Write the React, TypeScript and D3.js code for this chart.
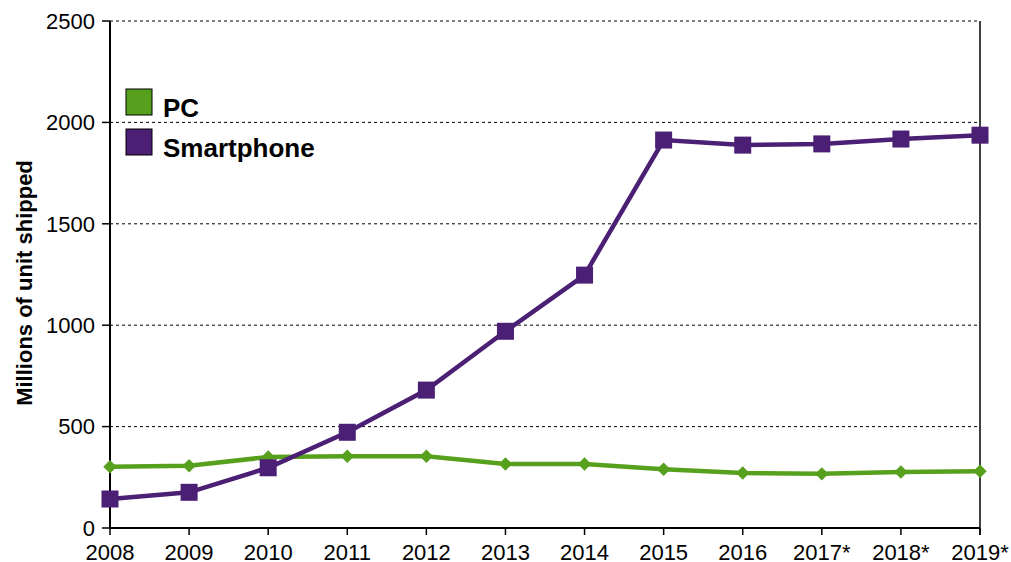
import React from "react";
import * as d3 from "d3";

const years = ["2008", "2009", "2010", "2011", "2012", "2013", "2014", "2015", "2016", "2017*", "2018*", "2019*"];
const pcValues = [302, 307, 350, 354, 354, 316, 316, 290, 271, 267, 276, 280];
const smartphoneValues = [143, 176, 297, 472, 680, 970, 1247, 1913, 1888, 1894, 1918, 1937];
const yTicks = [0, 500, 1000, 1500, 2000, 2500];
const legendItems = ["PC", "Smartphone"];

const GREEN = "#57a01d";
const PURPLE = "#4b1f74";
const FONT = "'Liberation Sans', Arial, sans-serif";

export default function App() {
  const W = 1011, H = 562;
  const left = 110, right = 980, top = 21, bottom = 528;
  const x = d3.scalePoint<string>().domain(years).range([left, right]);
  const y = d3.scaleLinear().domain([0, 2500]).range([bottom, top]);
  const line = d3.line<number>().x((_, i) => x(years[i])!).y((d) => y(d));
  const diamond = d3.symbol().type(d3.symbolDiamond2).size(115)();

  return (
    <svg width={W} height={H} style={{ position: "absolute", left: 0, top: 0, background: "#fff" }} fontFamily={FONT}>
      {yTicks.filter((t) => t > 0).map((t) => (
        <line key={t} x1={left} x2={right} y1={y(t)} y2={y(t)} stroke="#000" strokeWidth={1} strokeDasharray="3,3" />
      ))}
      <line x1={right} x2={right} y1={top} y2={bottom + 7} stroke="#000" strokeWidth={1.5} />
      <line x1={left} x2={left} y1={top} y2={bottom} stroke="#000" strokeWidth={2} />
      <line x1={left} x2={right} y1={bottom} y2={bottom} stroke="#000" strokeWidth={2} />
      {yTicks.map((t) => (
        <g key={t}>
          <line x1={left - 8} x2={left} y1={y(t)} y2={y(t)} stroke="#000" strokeWidth={1.5} />
          <text x={left - 15} y={y(t)} dy="0.35em" textAnchor="end" fontSize={22}>{t}</text>
        </g>
      ))}
      {years.map((yr) => (
        <g key={yr}>
          <line x1={x(yr)} x2={x(yr)} y1={bottom} y2={bottom + 7} stroke="#000" strokeWidth={1.5} />
          <text x={x(yr)} y={bottom + 32} textAnchor="middle" fontSize={22}>{yr}</text>
        </g>
      ))}
      <text transform={`translate(32,283) rotate(-90)`} textAnchor="middle" fontSize={22} fontWeight="bold">Millions of unit shipped</text>

      <path d={line(pcValues)!} fill="none" stroke={GREEN} strokeWidth={4.5} />
      {pcValues.map((v, i) => (
        <path key={i} d={diamond!} transform={`translate(${x(years[i])},${y(v)})`} fill={GREEN} />
      ))}
      <path d={line(smartphoneValues)!} fill="none" stroke={PURPLE} strokeWidth={4.5} />
      {smartphoneValues.map((v, i) => (
        <rect key={i} x={x(years[i])! - 8.5} y={y(v) - 8.5} width={17} height={17} fill={PURPLE} />
      ))}

      {legendItems.map((name, i) => (
        <g key={name} transform={`translate(126,${89 + i * 40})`}>
          <rect x={0} y={0} width={26} height={26} fill={i === 0 ? GREEN : PURPLE} stroke="#000" strokeWidth={1} />
          <text x={37} y={28} fontSize={26} fontWeight="bold">{name}</text>
        </g>
      ))}
    </svg>
  );
}
